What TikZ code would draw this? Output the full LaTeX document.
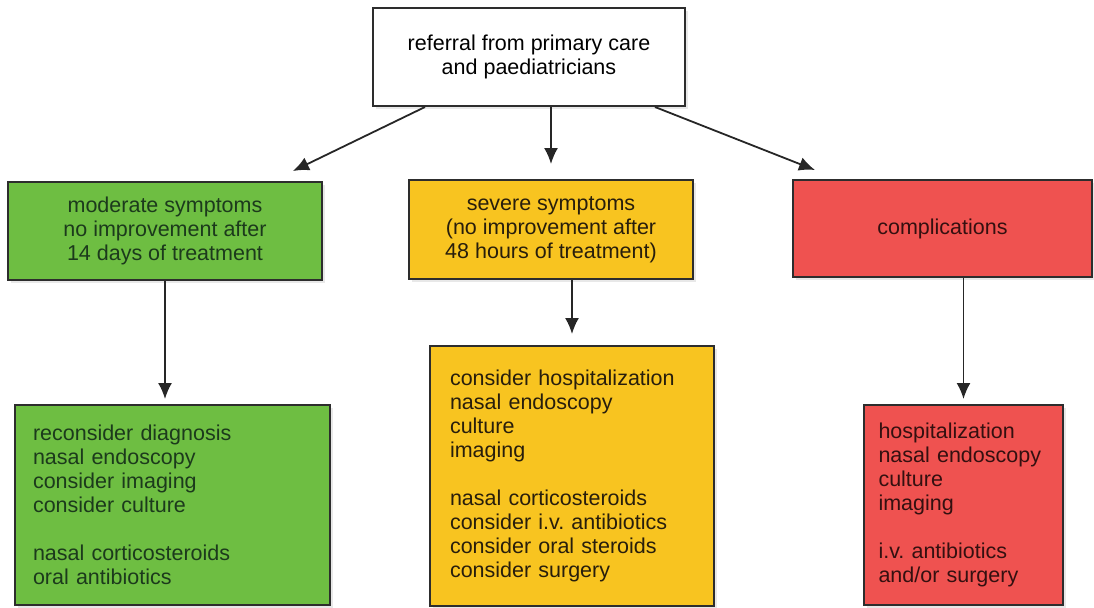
\documentclass[tikz,border=0pt]{standalone}
\usepackage{fontspec}
\setmainfont{Liberation Sans}
\usepackage{xcolor}
\usetikzlibrary{arrows.meta,shadows}
\definecolor{leafgreen}{RGB}{110,190,66}
\definecolor{amber}{RGB}{248,196,32}
\definecolor{coral}{RGB}{239,82,80}
\definecolor{edgegray}{RGB}{45,45,45}
\definecolor{greenink}{RGB}{28,58,28}
\definecolor{amberink}{RGB}{40,30,12}
\definecolor{coralink}{RGB}{52,16,16}
\frenchspacing

\begin{document}
\begin{tikzpicture}[x=0.5pt,y=-0.5pt,
  box/.style={rectangle,draw=edgegray,line width=1pt,inner sep=0pt,
    font=\fontsize{10.75}{12}\selectfont,
    drop shadow={shadow xshift=1.5pt,shadow yshift=-1.5pt,opacity=0.18}},
  stage/.style={box,align=center,minimum height=49pt},
  action/.style={box,align=left,inner xsep=9pt},
  arr/.style={-{Latex[length=8pt,width=7pt]},line width=0.9pt,draw=black!85}
]
\useasboundingbox (0,0) rectangle (1094,607);

% referral and the three levels
\node[stage,fill=white,text=black,minimum width=156pt] (referral) at (529,57)
  {referral from primary care\\and paediatricians};
\node[stage,fill=leafgreen,text=greenink,minimum width=157pt] (moderate) at (165,231)
  {moderate symptoms\\no improvement after\\14 days of treatment};
\node[stage,fill=amber,text=amberink,minimum width=142pt,minimum height=49.5pt] (severe) at (551,229.5)
  {severe symptoms\\(no improvement after\\48 hours of treatment)};
\node[stage,fill=coral,text=coralink,minimum width=149.5pt,minimum height=48.5pt] (complic) at (942.5,228.5)
  {complications};

% what to do
\node[action,fill=leafgreen,text=greenink,text width=139.5pt,minimum height=100pt] (moderatecare) at (172.5,505)
  {reconsider diagnosis\\nasal endoscopy\\consider imaging\\consider culture\\[12pt]
   nasal corticosteroids\\oral antibiotics};
\node[action,fill=amber,text=amberink,text width=122pt,inner xsep=10pt,minimum height=130pt] (severecare) at (572,476)
  {consider hospitalization\\nasal endoscopy\\culture\\imaging\\[12pt]
   nasal corticosteroids\\consider i.v. antibiotics\\consider oral steroids\\consider surgery};
\node[action,fill=coral,text=coralink,text width=85pt,inner xsep=7.25pt,minimum height=100pt] (compliccare) at (963.5,505)
  {hospitalization\\nasal endoscopy\\culture\\imaging\\[12pt]
   i.v. antibiotics\\and/or surgery};

\draw[arr] ([xshift=-52pt]referral.south) -- ([xshift=64pt,yshift=5pt]moderate.north);
\draw[arr,shorten >=7.5pt] (referral.south -| severe.north) -- (severe.north);
\draw[arr] ([xshift=63pt]referral.south) -- ([xshift=-63.75pt,yshift=4.5pt]complic.north);
\draw[arr,shorten >=2.5pt] (moderate.south) -- (moderate.south |- moderatecare.north);
\draw[arr,shorten >=5.5pt] (severe.south -| severecare.north) -- (severecare.north);
\draw[arr,shorten >=2.5pt] (complic.south -| compliccare.north) -- (compliccare.north);
\end{tikzpicture}
\end{document}
